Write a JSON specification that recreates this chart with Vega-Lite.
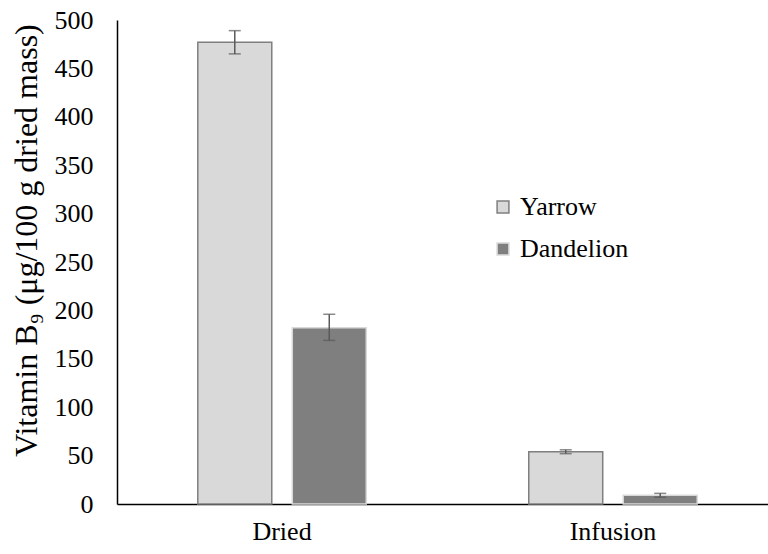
{
  "$schema": "https://vega.github.io/schema/vega-lite/v6.json",
  "width": 651,
  "height": 484,
  "autosize": "none",
  "padding": {"left": 117, "top": 20, "right": 0, "bottom": 50},
  "background": "white",
  "config": {
    "view": {"stroke": null},
    "font": "Liberation Serif",
    "axis": {"labelFont": "Liberation Serif", "titleFont": "Liberation Serif", "labelColor": "black", "titleColor": "black", "labelFontSize": 26, "titleFontSize": 32, "titleFontWeight": "normal", "grid": false, "ticks": false, "domainColor": "black", "domainWidth": 1.5},
    "legend": {"labelFont": "Liberation Serif", "labelFontSize": 26, "labelColor": "black"}
  },
  "data": {
    "values": [
      {"form": "Dried", "plant": "Yarrow", "value": 477, "lo": 465, "hi": 489},
      {"form": "Dried", "plant": "Dandelion", "value": 182, "lo": 169, "hi": 196},
      {"form": "Infusion", "plant": "Yarrow", "value": 54, "lo": 52, "hi": 56},
      {"form": "Infusion", "plant": "Dandelion", "value": 9, "lo": 7, "hi": 11}
    ]
  },
  "encoding": {
    "x": {
      "field": "form", "type": "nominal", "sort": ["Dried", "Infusion"],
      "scale": {"paddingInner": 0.491, "paddingOuter": 0.229, "align": 0.533},
      "axis": {"title": null, "labelAngle": 0, "labelPadding": 14}
    },
    "xOffset": {"field": "plant", "type": "nominal", "sort": ["Yarrow", "Dandelion"], "scale": {"paddingInner": 0.217, "paddingOuter": 0}}
  },
  "layer": [
    {
      "mark": {"type": "bar", "strokeWidth": 1.5},
      "encoding": {
        "y": {
          "field": "value", "type": "quantitative",
          "scale": {"domain": [0, 500]},
          "axis": {"title": "Vitamin B₉ (μg/100 g dried mass)", "titleX": -91, "titleY": 220, "titleAngle": -90, "titleAlign": "center", "titleBaseline": "middle", "labelPadding": 24, "values": [0,50,100,150,200,250,300,350,400,450,500], "labelOverlap": false}
        },
        "fill": {
          "field": "plant", "type": "nominal", "sort": ["Yarrow", "Dandelion"],
          "scale": {"domain": ["Yarrow", "Dandelion"], "range": ["#d9d9d9", "#7f7f7f"]},
          "legend": {
            "title": null, "orient": "none", "legendX": 373, "legendY": 174,
            "symbolType": "square", "symbolSize": 140, "symbolStrokeWidth": 1.5,
            "rowPadding": 16, "labelOffset": 4
          }
        },
        "stroke": {
          "field": "plant", "type": "nominal", "sort": ["Yarrow", "Dandelion"],
          "scale": {"domain": ["Yarrow", "Dandelion"], "range": ["#7f7f7f", "#d9d9d9"]},
          "legend": {
            "title": null, "orient": "none", "legendX": 373, "legendY": 174,
            "symbolType": "square", "symbolSize": 140, "symbolStrokeWidth": 1.5,
            "rowPadding": 16, "labelOffset": 4
          }
        }
      }
    },
    {
      "mark": {"type": "rule", "color": "#595959", "strokeWidth": 1.5},
      "encoding": {
        "y": {"field": "lo", "type": "quantitative", "axis": {"title": "Vitamin B₉ (μg/100 g dried mass)", "titleX": -91, "titleY": 220, "titleAngle": -90, "titleAlign": "center", "titleBaseline": "middle", "labelPadding": 24, "values": [0,50,100,150,200,250,300,350,400,450,500], "labelOverlap": false}},
        "y2": {"field": "hi"}
      }
    },
    {
      "mark": {"type": "tick", "color": "#595959", "size": 12, "thickness": 1.5, "orient": "horizontal"},
      "encoding": {"y": {"field": "lo", "type": "quantitative", "axis": {"title": "Vitamin B₉ (μg/100 g dried mass)", "titleX": -91, "titleY": 220, "titleAngle": -90, "titleAlign": "center", "titleBaseline": "middle", "labelPadding": 24, "values": [0,50,100,150,200,250,300,350,400,450,500], "labelOverlap": false}}}
    },
    {
      "mark": {"type": "tick", "color": "#595959", "size": 12, "thickness": 1.5, "orient": "horizontal"},
      "encoding": {"y": {"field": "hi", "type": "quantitative", "axis": {"title": "Vitamin B₉ (μg/100 g dried mass)", "titleX": -91, "titleY": 220, "titleAngle": -90, "titleAlign": "center", "titleBaseline": "middle", "labelPadding": 24, "values": [0,50,100,150,200,250,300,350,400,450,500], "labelOverlap": false}}}
    }
  ]
}
